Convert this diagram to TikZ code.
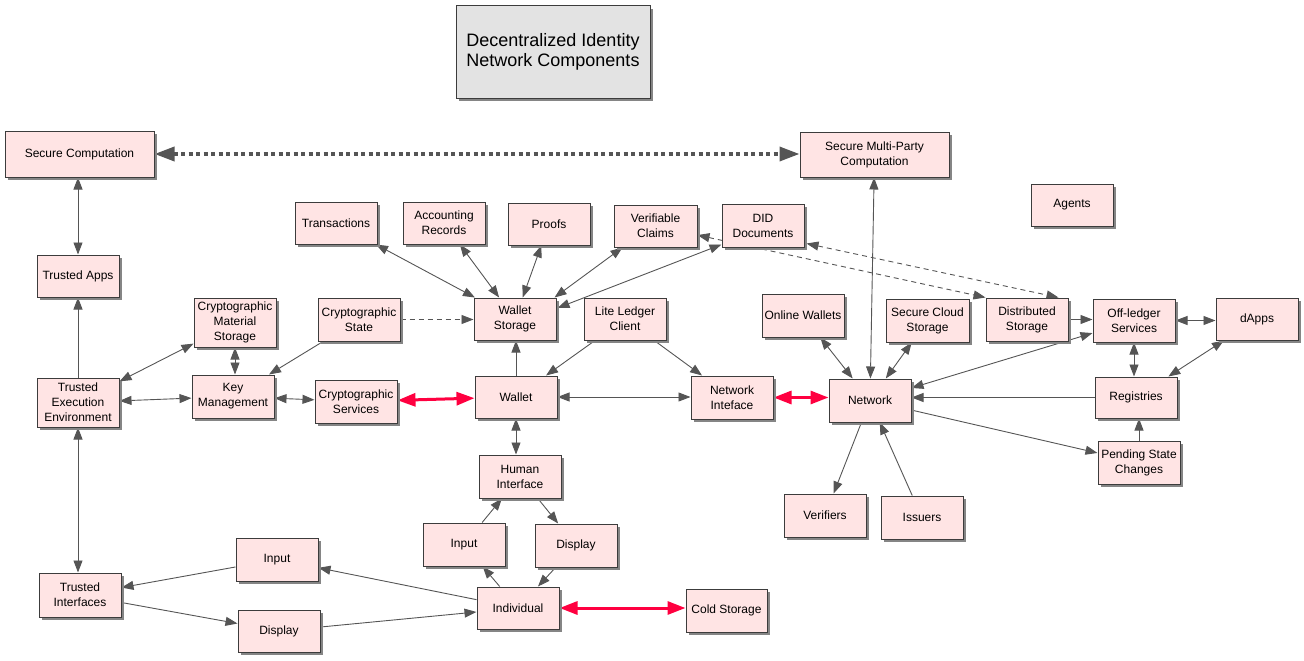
\documentclass[tikz,border=0pt]{standalone}
\usepackage{fontspec}
\setmainfont{Liberation Sans}
\usetikzlibrary{arrows.meta,shadows,calc}
\definecolor{boxpink}{HTML}{FFE4E4}
\definecolor{titlegray}{HTML}{E3E3E3}
\definecolor{bordergray}{HTML}{3C3C3C}
\definecolor{shadowgray}{HTML}{858585}
\definecolor{lineg}{HTML}{555555}
\definecolor{hotred}{HTML}{FF0040}
\pgfdeclarelayer{background}
\pgfsetlayers{background,main}
\tikzset{
  box/.style={draw=bordergray, line width=1pt, fill=boxpink, inner sep=0pt, align=center,
    font=\fontsize{12}{15}\selectfont,
    drop shadow={shadow xshift=3pt, shadow yshift=-3pt, fill=shadowgray, opacity=1}},
  titlebox/.style={box, fill=titlegray, font=\fontsize{18}{20}\selectfont},
  conn/.style={draw=lineg, line width=0.9pt},
  oneway/.style={conn, -{Triangle[length=12pt,width=9pt]}},
  twoway/.style={conn, {Triangle[length=12pt,width=9pt]}-{Triangle[length=12pt,width=9pt]}},
  dashway/.style={conn, dash pattern=on 5pt off 4pt, {Triangle[length=12pt,width=9pt]}-{Triangle[length=12pt,width=9pt]}},
  dashone/.style={conn, dash pattern=on 5pt off 4pt, -{Triangle[length=12pt,width=9pt]}},
  redway/.style={draw=hotred, line width=3pt, {Triangle[length=18pt,width=13pt]}-{Triangle[length=18pt,width=13pt]}},
  dotway/.style={draw=lineg, line width=3.5pt, dash pattern=on 4pt off 3.5pt, {Triangle[length=20pt,width=14pt]}-{Triangle[length=20pt,width=14pt]}},
}
\newcommand{\bx}[7][box]{\node[#1, minimum width={#5-#3}, minimum height={#6-#4}] (#2) at ({(#3+#5)/2},{(#4+#6)/2}) {#7};}
\begin{document}
\begin{tikzpicture}[x=1pt,y=-1pt]
\useasboundingbox (0,0) rectangle (1304,661);
\bx[titlebox]{title}{456}{6}{650}{98}{Decentralized Identity\\Network Components}
\bx{sc}{5}{131}{154}{177}{Secure Computation}
\bx{smpc}{800}{132}{949}{177}{Secure Multi-Party\\Computation}
\bx{agents}{1031}{184}{1113}{226}{Agents}
\bx{tr}{295}{202}{377}{244}{Transactions}
\bx{ar}{403}{202}{485}{244}{Accounting\\Records}
\bx{pf}{508}{203}{590}{245}{Proofs}
\bx{vc}{614}{205}{697}{247}{Verifiable\\Claims}
\bx{did}{722}{204}{804}{247}{DID\\Documents}
\bx{ta}{37}{255}{119}{297}{Trusted Apps}
\bx{cms}{194}{298}{276}{347}{Cryptographic\\Material\\Storage}
\bx{cs}{318}{298}{400}{341}{Cryptographic\\State}
\bx{ws}{474}{298}{556}{340}{Wallet\\Storage}
\bx{llc}{584}{298}{666}{340}{Lite Ledger\\Client}
\bx{ow}{762}{294}{844}{337}{Online Wallets}
\bx{scs}{886}{299}{969}{342}{Secure Cloud\\Storage}
\bx{ds}{986}{298}{1068}{341}{Distributed\\Storage}
\bx{ols}{1093}{299}{1175}{342}{Off-ledger\\Services}
\bx{dapps}{1216}{298}{1298}{340}{dApps}
\bx{tee}{37}{378}{119}{427}{Trusted\\Execution\\Environment}
\bx{km}{192}{375}{274}{418}{Key\\Management}
\bx{csv}{315}{380}{397}{423}{Cryptographic\\Services}
\bx{wal}{475}{376}{557}{418}{Wallet}
\bx{ni}{691}{376}{773}{419}{Network\\Inteface}
\bx{net}{829}{379}{911}{422}{Network}
\bx{reg}{1095}{377}{1177}{418}{Registries}
\bx{psc}{1098}{441}{1180}{484}{Pending State\\Changes}
\bx{hi}{479}{455}{561}{498}{Human\\Interface}
\bx{ver}{784}{494}{866}{537}{Verifiers}
\bx{iss}{881}{496}{963}{539}{Issuers}
\bx{inc}{423}{523}{505}{566}{Input}
\bx{dic}{535}{524}{617}{567}{Display}
\bx{inl}{236}{538}{318}{581}{Input}
\bx{ti}{39}{573}{121}{617}{Trusted\\Interfaces}
\bx{dil}{238}{610}{320}{652}{Display}
\bx{ind}{477}{587}{559}{629}{Individual}
\bx{cold}{686}{589}{767}{632}{Cold Storage}
\begin{pgfonlayer}{background}
% left column
\draw[dotway] (sc) -- (sc -| smpc.west);
\draw[twoway] (sc.south -| ta.north) -- (ta.north);
\draw[oneway] (tee.north) -- (tee.north |- ta.south);
\draw[twoway] (tee.south) -- (tee.south |- ti.north);
\draw[twoway] (tee) -- (cms);
\draw[twoway] (tee) -- (km);
\draw[twoway] (cms.south) -- (cms.south |- km.north);
\draw[oneway] (cs) -- (km);
\draw[twoway] (km) -- (csv);
\draw[redway] (csv) -- (wal);
\draw[dashone] (cs) -- (cs -| ws.west);
\draw[oneway] (wal.north) -- (wal.north |- ws.south);
% wallet storage fan
\draw[twoway] (ws) -- (tr);
\draw[twoway] (ws) -- (ar);
\draw[twoway] (ws) -- (pf);
\draw[twoway] ($(ws.north east)+(-2,0)$) -- ($(vc.south west)+(9,0)$);
\draw[twoway] ($(ws.east)+(1,-11)$) -- ($(did.south west)+(0,-3)$);
% ledger and network
\draw[oneway] (llc) -- (wal);
\draw[oneway] (llc) -- (ni);
\draw[twoway] (wal) -- (wal -| ni.west);
\draw[twoway] (wal.south) -- (wal.south |- hi.north);
\draw[redway] (ni) -- (ni -| net.west);
\draw[twoway] (net) -- (smpc);
\draw[twoway] (net) -- (ow);
\draw[twoway] (net) -- (scs);
\draw[twoway] (net) -- (ols);
\draw[oneway] (reg) -- (reg -| net.east);
\draw[oneway] (net) -- (psc);
\draw[oneway] (net) -- (ver);
\draw[oneway] (iss) -- (net);
\draw[oneway] (ds) -- (ds -| ols.west);
\draw[twoway] (ols) -- (ols -| dapps.west);
\draw[twoway] (ols.south) -- (ols.south |- reg.north);
\draw[twoway] (reg) -- (dapps);
\draw[oneway] (psc.north) -- (psc.north |- reg.south);
% dashed links
\draw[dashway] (vc) -- (ds.north west);
\draw[dashway] ($(did.south east)+(2,-4)$) -- ($(ds.north east)+(-10,0)$);
% human side
\draw[oneway] (inc) -- (hi);
\draw[oneway] (hi) -- (dic);
\draw[oneway] (ind) -- (inc);
\draw[oneway] (dic) -- (ind);
\draw[redway] (ind) -- (ind -| cold.west);
\draw[oneway] (ind) -- (inl);
\draw[oneway] (inl) -- (ti);
\draw[oneway] (ti) -- (dil);
\draw[oneway] (dil) -- (ind);
\end{pgfonlayer}
\end{tikzpicture}
\end{document}
